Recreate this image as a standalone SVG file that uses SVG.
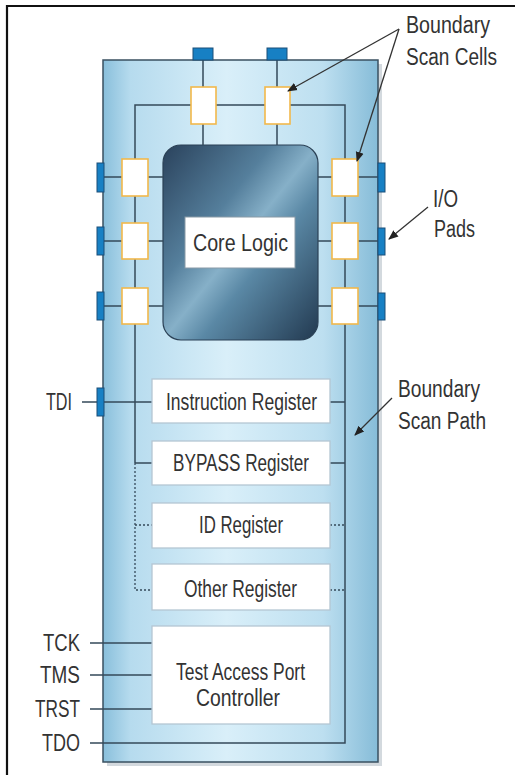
<svg xmlns="http://www.w3.org/2000/svg" width="515" height="775" viewBox="0 0 515 775">
<defs>
  <linearGradient id="chipGrad" x1="0" y1="0" x2="1" y2="0">
    <stop offset="0" stop-color="#89bfdb"/>
    <stop offset="0.1" stop-color="#b6dbee"/>
    <stop offset="0.45" stop-color="#d9eff9"/>
    <stop offset="0.8" stop-color="#bddff0"/>
    <stop offset="1" stop-color="#86bcd8"/>
  </linearGradient>
  <linearGradient id="coreGrad" x1="0" y1="0" x2="1" y2="1">
    <stop offset="0" stop-color="#2a425c"/>
    <stop offset="0.35" stop-color="#557f9c"/>
    <stop offset="0.5" stop-color="#86b0c8"/>
    <stop offset="0.62" stop-color="#5a88a5"/>
    <stop offset="1" stop-color="#223950"/>
  </linearGradient>
  <marker id="arr" viewBox="0 0 10 10" refX="9" refY="5" markerWidth="10" markerHeight="10" orient="auto" markerUnits="userSpaceOnUse">
    <path d="M0,1 L10,5 L0,9 z" fill="#222"/>
  </marker>
</defs>
<style>
  .t{font-family:"Liberation Sans",Arial,sans-serif;font-size:23px;fill:#333333}
  .w{stroke:#35495a;stroke-width:1.5;fill:none}
  .d{stroke:#35495a;stroke-width:1.3;fill:none;stroke-dasharray:2 2}
  .cell{fill:#ffffff;stroke:#f2b84b;stroke-width:1.6}
  .pad{fill:#1780c4;stroke:#1b4e78;stroke-width:1}
  .reg{fill:#ffffff;stroke:#b4c6d3;stroke-width:1.3}
  .arrow{stroke:#333333;stroke-width:1.3;fill:none;marker-end:url(#arr)}
</style>

<rect width="515" height="775" fill="#ffffff"/>
<path id="frame" d="M7,775 V6 H515" fill="none" stroke="#111" stroke-width="2.2"/>

<g id="chip">
  <rect x="107" y="64" width="275" height="702" fill="#d3d9de"/>
  <rect x="103" y="60" width="275" height="702" fill="url(#chipGrad)" stroke="#3a5060" stroke-width="1.5"/>
</g>

<g id="core-logic">
  <rect x="163" y="145" width="155" height="195" rx="18" fill="url(#coreGrad)" stroke="#2b4156" stroke-width="1.2"/>
  <rect x="185" y="217" width="110" height="51" fill="#ffffff" stroke="#8899a6" stroke-width="1"/>
  <text class="t" x="240.5" y="251" text-anchor="middle" textLength="95" lengthAdjust="spacingAndGlyphs">Core Logic</text>
</g>

<g id="connectors">
  <path class="w" d="M135,463 V105 H345 V743 H90"/>
  <path class="w" d="M203,60 V145 M277,60 V145"/>
  <path class="w" d="M104,177 H163 M104,241 H163 M104,306 H163"/>
  <path class="w" d="M318,177 H378 M318,241 H378 M318,306 H378"/>
  <path class="w" d="M82,402 H152 M330,402 H345"/>
  <path class="w" d="M135,463 H152 M330,463 H345"/>
  <path class="d" d="M135,463 V590 H152 M135,525 H152 M330,525 H345 M330,590 H345"/>
  <path class="w" d="M90,643 H152 M90,675 H152 M90,709 H152"/>
</g>

<g id="pads">
  <rect class="pad" x="193" y="48" width="20" height="12"/>
  <rect class="pad" x="267" y="48" width="20" height="12"/>
  <rect class="pad" x="97" y="163" width="7" height="29"/>
  <rect class="pad" x="97" y="227" width="7" height="28"/>
  <rect class="pad" x="97" y="292" width="7" height="28"/>
  <rect class="pad" x="378" y="163" width="7" height="29"/>
  <rect class="pad" x="378" y="228" width="7" height="27"/>
  <rect class="pad" x="378" y="293" width="7" height="27"/>
  <rect class="pad" x="97" y="388" width="7" height="28"/>
</g>

<g id="scan-cells">
  <rect class="cell" x="191" y="87" width="25" height="37"/>
  <rect class="cell" x="265" y="87" width="25" height="37"/>
  <rect class="cell" x="122" y="159" width="26" height="37"/>
  <rect class="cell" x="122" y="223" width="26" height="36"/>
  <rect class="cell" x="122" y="288" width="26" height="36"/>
  <rect class="cell" x="332" y="159" width="26" height="37"/>
  <rect class="cell" x="332" y="223" width="26" height="36"/>
  <rect class="cell" x="332" y="288" width="26" height="36"/>
</g>

<g id="instruction-register">
  <rect class="reg" x="152" y="379" width="178" height="44"/>
  <text class="t" x="241.5" y="410" text-anchor="middle" textLength="151" lengthAdjust="spacingAndGlyphs">Instruction Register</text>
</g>
<g id="bypass-register">
  <rect class="reg" x="152" y="441" width="178" height="44"/>
  <text class="t" x="241" y="471" text-anchor="middle" textLength="136" lengthAdjust="spacingAndGlyphs">BYPASS Register</text>
</g>
<g id="id-register">
  <rect class="reg" x="152" y="503" width="178" height="45"/>
  <text class="t" x="241" y="533" text-anchor="middle" textLength="84" lengthAdjust="spacingAndGlyphs">ID Register</text>
</g>
<g id="other-register">
  <rect class="reg" x="152" y="564" width="178" height="46"/>
  <text class="t" x="240.5" y="597" text-anchor="middle" textLength="113" lengthAdjust="spacingAndGlyphs">Other Register</text>
</g>
<g id="tap-controller">
  <rect class="reg" x="152" y="626" width="178" height="98"/>
  <text class="t" x="240.5" y="680" text-anchor="middle" textLength="129" lengthAdjust="spacingAndGlyphs">Test Access Port</text>
  <text class="t" x="238" y="706" text-anchor="middle" textLength="84" lengthAdjust="spacingAndGlyphs">Controller</text>
</g>

<g id="signal-labels">
  <text class="t" x="72" y="410" text-anchor="end" textLength="26" lengthAdjust="spacingAndGlyphs">TDI</text>
  <text class="t" x="80" y="651" text-anchor="end" textLength="37" lengthAdjust="spacingAndGlyphs">TCK</text>
  <text class="t" x="80" y="683" text-anchor="end" textLength="40" lengthAdjust="spacingAndGlyphs">TMS</text>
  <text class="t" x="80" y="717" text-anchor="end" textLength="45" lengthAdjust="spacingAndGlyphs">TRST</text>
  <text class="t" x="80" y="751" text-anchor="end" textLength="38" lengthAdjust="spacingAndGlyphs">TDO</text>
</g>

<g id="label-scan-cells">
  <text class="t" x="406" y="33" textLength="84" lengthAdjust="spacingAndGlyphs">Boundary</text>
  <text class="t" x="406" y="65" textLength="91" lengthAdjust="spacingAndGlyphs">Scan Cells</text>
  <path class="arrow" d="M399,29 L288,91"/>
  <path class="arrow" d="M399,29 L357,161"/>
</g>
<g id="label-io-pads">
  <text class="t" x="433" y="207" textLength="25" lengthAdjust="spacingAndGlyphs">I/O</text>
  <text class="t" x="434" y="237" textLength="41" lengthAdjust="spacingAndGlyphs">Pads</text>
  <path class="arrow" d="M428,207 L389,239"/>
</g>
<g id="label-scan-path">
  <text class="t" x="398" y="397" textLength="82" lengthAdjust="spacingAndGlyphs">Boundary</text>
  <text class="t" x="398" y="429" textLength="88" lengthAdjust="spacingAndGlyphs">Scan Path</text>
  <path class="arrow" d="M392,398 L355,435"/>
</g>
</svg>
